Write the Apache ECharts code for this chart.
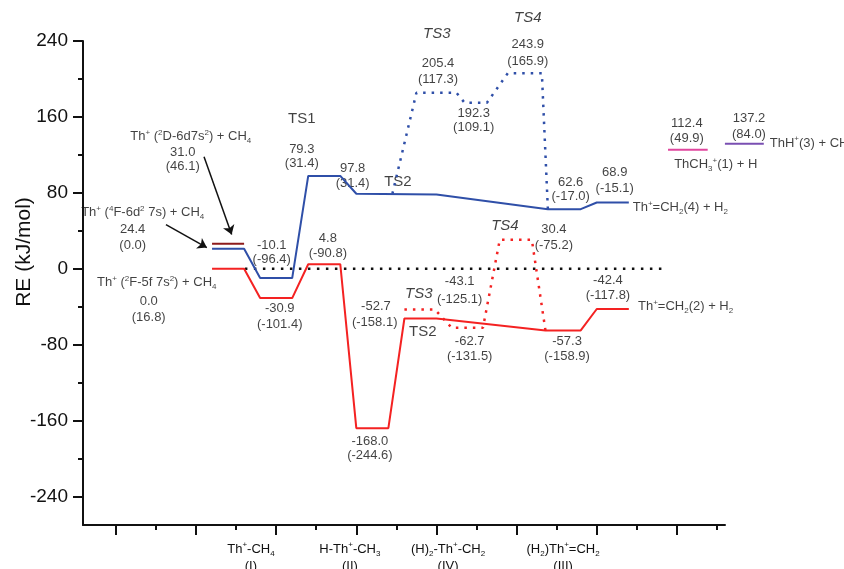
<!DOCTYPE html>
<html>
<head>
<meta charset="utf-8">
<script src="https://cdn.jsdelivr.net/npm/echarts@6/dist/echarts.min.js"></script>
<style>
  html, body { margin: 0; padding: 0; background: #fff; }
  #chart { width: 844px; height: 569px; }
</style>
</head>
<body>
<div id="chart"></div>
<script>
// axis ticks
const yTicks = [-240, -160, -80, 0, 80, 160, 240];
const yMinorTicks = [-200, -120, -40, 40, 120, 200];
const xMajorTicks = [1, 3, 5, 7, 9, 11, 13, 15];
const xMinorTicks = [2, 4, 6, 8, 10, 12, 14, 16];

// intermediates along the reaction coordinate
const stagePos = [4.37, 6.84, 9.29, 12.16];
const stageNames = [
  'Th{sup|+}-CH{sub|4}\n(I)',
  'H-Th{sup|+}-CH{sub|3}\n(II)',
  '(H){sub|2}-Th{sup|+}-CH{sub|2}\n(IV)',
  '(H{sub|2})Th{sup|+}=CH{sub|2}\n(III)'
];

// energy profiles, [reaction coordinate, RE kJ/mol]
const redPath = [[3.4, 0], [4.2, 0], [4.6, -30.9], [5.4, -30.9], [5.8, 4.8], [6.6, 4.8],
  [7.0, -168], [7.8, -168], [8.2, -52.4], [9.0, -52.4], [11.72, -65], [12.6, -65],
  [13.0, -42.4], [13.8, -42.4]];
const redTsPath = [[8.2, -42.9], [8.96, -42.9], [9.38, -62.2], [10.16, -62.2],
  [10.58, 30.6], [11.38, 30.6], [11.72, -65]];
const bluePath = [[3.4, 21], [4.2, 21], [4.6, -9.8], [5.4, -9.8], [5.8, 97.8], [6.6, 97.8],
  [7.0, 79], [9.0, 78.3], [11.78, 62.8], [12.6, 62.8], [13.0, 69.8], [13.8, 69.8]];
const blueTsPath = [[7.9, 79], [8.5, 185.4], [9.5, 185.4], [9.7, 175], [10.26, 175],
  [10.78, 206], [11.63, 206], [11.78, 62.8]];
const level2D = [[3.4, 26.3], [4.2, 26.3]];
const levelThCH3 = [[14.78, 125.3], [15.77, 125.3]];
const levelThH = [[16.2, 131.6], [17.17, 131.6]];
const zeroRef = [[4.22, 0], [14.63, 0]];

const arrows = [
  [[3.2, 118], [3.89, 36]],
  [[2.25, 46.5], [3.27, 22.3]]
];

// annotations: [x, y, text, anchor]  (c = centred, l = starts at point)
const notes = [
  [2.87, 139.0, 'Th{sup|+} ({sup|2}D-6d7s{sup|2}) + CH{sub|4}', 'c'],
  [2.67, 122.2, '31.0', 'c'],
  [2.67, 107.5, '(46.1)', 'c'],
  [1.67, 59.1, 'Th{sup|+} ({sup|4}F-6d{sup|2} 7s) + CH{sub|4}', 'c'],
  [1.42, 41.2, '24.4', 'c'],
  [1.42, 24.4, '(0.0)', 'c'],
  [4.89, 24.4, '-10.1', 'c'],
  [4.89, 9.7, '(-96.4)', 'c'],
  [2.02, -14.5, 'Th{sup|+} ({sup|2}F-5f 7s{sup|2}) + CH{sub|4}', 'c'],
  [1.82, -34.5, '0.0', 'c'],
  [1.82, -51.3, '(16.8)', 'c'],
  [5.09, -41.8, '-30.9', 'c'],
  [5.09, -58.7, '(-101.4)', 'c'],
  [5.64, 157.9, '{ts|TS1}', 'c'],
  [5.64, 125.3, '79.3', 'c'],
  [5.64, 110.6, '(31.4)', 'c'],
  [6.91, 105.4, '97.8', 'c'],
  [6.91, 89.6, '(31.4)', 'c'],
  [8.04, 91.7, '{ts|TS2}', 'c'],
  [9.01, 247.3, '{it|TS3}', 'c'],
  [9.04, 216.8, '205.4', 'c'],
  [9.04, 200, '(117.3)', 'c'],
  [9.93, 164.2, '192.3', 'c'],
  [9.93, 148.5, '(109.1)', 'c'],
  [11.28, 264.1, '{it|TS4}', 'c'],
  [11.28, 236.8, '243.9', 'c'],
  [11.28, 218.9, '(165.9)', 'c'],
  [12.35, 90.6, '62.6', 'c'],
  [12.35, 75.9, '(-17.0)', 'c'],
  [13.45, 101.1, '68.9', 'c'],
  [13.45, 84.3, '(-15.1)', 'c'],
  [13.9, 64.4, 'Th{sup|+}=CH{sub|2}(4) + H{sub|2}', 'l'],
  [15.25, 152.7, '112.4', 'c'],
  [15.25, 136.9, '(49.9)', 'c'],
  [15.97, 109.6, 'ThCH{sub|3}{sup|+}(1) + H', 'c'],
  [16.8, 157.9, '137.2', 'c'],
  [16.8, 141.1, '(84.0)', 'c'],
  [17.32, 132.6, 'ThH{sup|+}(3) + CH{sub|3}', 'l'],
  [10.71, 45.4, '{it|TS4}', 'c'],
  [11.93, 41.2, '30.4', 'c'],
  [11.93, 24.4, '(-75.2)', 'c'],
  [8.56, -26.1, '{it|TS3}', 'c'],
  [9.58, -13.5, '-43.1', 'c'],
  [9.58, -32.4, '(-125.1)', 'c'],
  [7.49, -39.7, '-52.7', 'c'],
  [7.46, -56.6, '(-158.1)', 'c'],
  [8.66, -66, '{ts|TS2}', 'c'],
  [9.83, -76.6, '-62.7', 'c'],
  [9.83, -92.3, '(-131.5)', 'c'],
  [12.26, -76.6, '-57.3', 'c'],
  [12.26, -92.3, '(-158.9)', 'c'],
  [13.28, -12.4, '-42.4', 'c'],
  [13.28, -28.2, '(-117.8)', 'c'],
  [14.03, -39.7, 'Th{sup|+}=CH{sub|2}(2) + H{sub|2}', 'l'],
  [7.34, -181.7, '-168.0', 'c'],
  [7.34, -196.4, '(-244.6)', 'c'],
  [6.29, 31.8, '4.8', 'c'],
  [6.29, 16, '(-90.8)', 'c']
];

const FONT = '"Liberation Sans", Arial, Helvetica, sans-serif';
const BLUE = '#2f4fa8';
const RED = '#f42222';
const X_MIN = 0.18;
const X_MAX = 16.2;
const Y_MIN = -270;
const Y_MAX = 240;

const rich = {
  sup: { fontSize: 8, lineHeight: 9, verticalAlign: 'top', fontFamily: FONT, color: '#111' },
  sub: { fontSize: 8, lineHeight: 9, verticalAlign: 'bottom', fontFamily: FONT, color: '#111' },
  it: { fontSize: 15, fontStyle: 'italic', fontFamily: FONT, color: '#111' },
  ts: { fontSize: 15, fontFamily: FONT, color: '#111' }
};

const chart = echarts.init(document.getElementById('chart'));

function levelSeries(data, color, width, type, axisIndex) {
  return {
    type: 'line',
    data: data,
    xAxisIndex: axisIndex || 0,
    yAxisIndex: axisIndex || 0,
    showSymbol: false,
    symbol: 'none',
    clip: false,
    silent: true,
    lineStyle: { color: color, width: width, type: type || 'solid' }
  };
}

const hiddenAxis = (min, max, grid) => ({
  type: 'value', min: min, max: max, gridIndex: grid, show: false,
  axisLine: { onZero: false }, splitLine: { show: false }
});

const option = {
  animation: false,
  backgroundColor: '#fff',
  textStyle: { fontFamily: FONT },
  grid: [
    { left: 83, right: 119, top: 41, bottom: 44, outerBoundsMode: 'none', containLabel: false },
    // wider twin grid (same scale) for the separated product levels on the right
    { left: 83, right: 0, top: 41, bottom: 44, outerBoundsMode: 'none', containLabel: false }
  ],
  xAxis: [
    {
      type: 'value',
      min: X_MIN,
      max: X_MAX,
      position: 'bottom',
      splitLine: { show: false },
      axisLine: { show: true, onZero: false, lineStyle: { color: '#111', width: 2 } },
      axisTick: { show: true, length: 10, customValues: xMajorTicks, lineStyle: { color: '#111', width: 2 } },
      axisLabel: {
        show: true,
        customValues: stagePos,
        margin: 16,
        color: '#111',
        fontSize: 13,
        lineHeight: 17,
        fontFamily: FONT,
        rich: rich,
        formatter: (v) => {
          let best = 0;
          stagePos.forEach((p, i) => { if (Math.abs(p - v) < Math.abs(stagePos[best] - v)) best = i; });
          return stageNames[best];
        }
      }
    },
    {
      type: 'value',
      min: X_MIN,
      max: X_MAX,
      position: 'bottom',
      offset: 0,
      splitLine: { show: false },
      axisLine: { show: false, onZero: false },
      axisTick: { show: true, length: 5, customValues: xMinorTicks, lineStyle: { color: '#111', width: 2 } },
      axisLabel: { show: false }
    },
    hiddenAxis(X_MIN, X_MIN + 761 / 40.07, 1)
  ],
  yAxis: [
    {
      type: 'value',
      min: Y_MIN,
      max: Y_MAX,
      position: 'left',
      name: 'RE (kJ/mol)',
      nameLocation: 'middle',
      nameRotate: 90,
      nameGap: 48,
      nameMoveOverlap: false,
      nameTextStyle: { fontSize: 21, color: '#111', fontFamily: FONT, padding: [0, 0, 0, 62] },
      splitLine: { show: false },
      axisLine: { show: true, onZero: false, lineStyle: { color: '#111', width: 2 } },
      axisTick: { show: true, length: 10, customValues: yTicks, lineStyle: { color: '#111', width: 2 } },
      axisLabel: { customValues: yTicks, margin: 15, fontSize: 19, color: '#111', fontFamily: FONT }
    },
    {
      type: 'value',
      min: Y_MIN,
      max: Y_MAX,
      position: 'left',
      offset: 0,
      splitLine: { show: false },
      axisLine: { show: false, onZero: false },
      axisTick: { show: true, length: 5, customValues: yMinorTicks, lineStyle: { color: '#111', width: 2 } },
      axisLabel: { show: false }
    },
    hiddenAxis(Y_MIN, Y_MAX, 1)
  ],
  series: [
    levelSeries(zeroRef, '#111', 2.5, [2.5, 6.5]),
    levelSeries(redPath, RED, 2),
    levelSeries(bluePath, BLUE, 2),
    levelSeries(redTsPath, RED, 2.5, [2.5, 6]),
    levelSeries(blueTsPath, BLUE, 2.5, [2.5, 6]),
    levelSeries(level2D, '#8e1b1b', 2),
    levelSeries(levelThCH3, '#e0469e', 2, null, 2),
    levelSeries(levelThH, '#7a4fb2', 2, null, 2),
    {
      type: 'lines',
      coordinateSystem: 'cartesian2d',
      silent: true,
      symbol: ['none', 'arrow'],
      symbolSize: 9,
      lineStyle: { color: '#111', width: 1.5, opacity: 1 },
      data: arrows.map(a => ({ coords: a }))
    },
    {
      type: 'scatter',
      symbolSize: 0,
      clip: false,
      silent: true,
      xAxisIndex: 2,
      yAxisIndex: 2,
      data: notes.map(n => ({
        value: [n[0], n[1]],
        label: {
          show: true,
          position: n[3] === 'l' ? 'right' : 'inside',
          distance: 0,
          formatter: n[2],
          color: '#111',
          fontSize: 13,
          lineHeight: 16,
          fontFamily: FONT,
          rich: rich
        }
      }))
    }
  ]
};

chart.setOption(option);
window.addEventListener('resize', () => chart.resize());
</script>
</body>
</html>
